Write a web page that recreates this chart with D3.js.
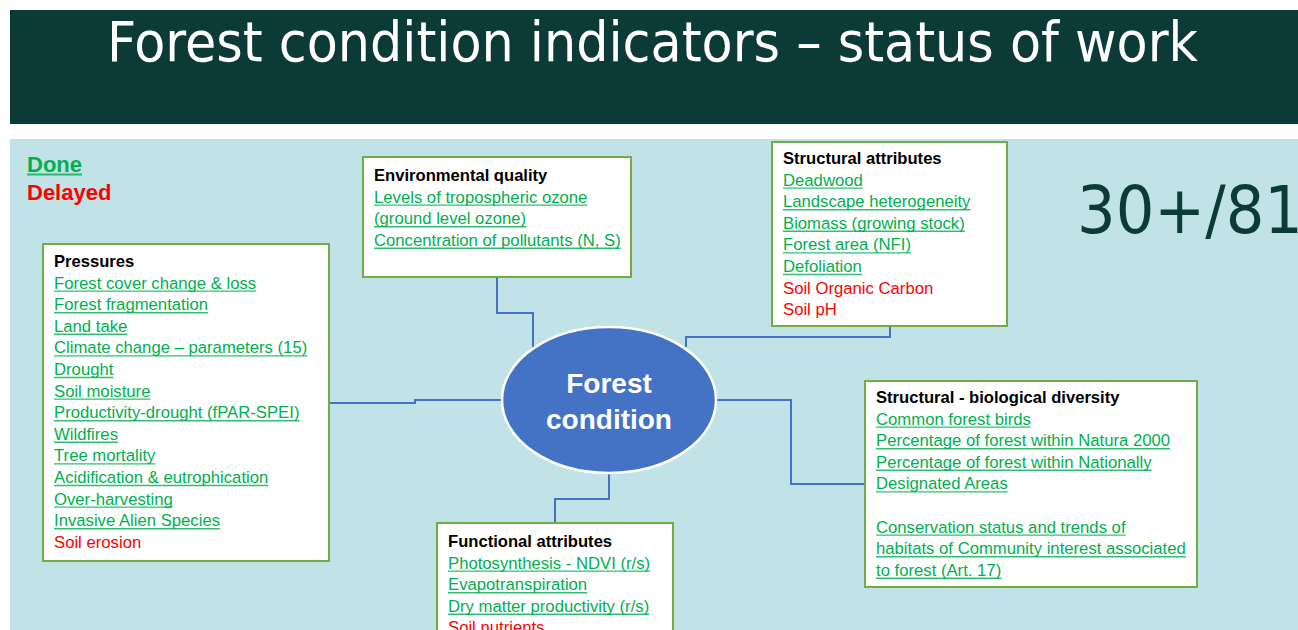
<head>
	<script src="https://d3js.org/d3.v7.min.js"></script>
	<style type="text/css">
		body { margin: 0; background: #ffffff; }
		text { font-family: "Liberation Sans", Arial, sans-serif; }
	</style>
</head>
<body>
	<script type="text/javascript">
		// chart content
		const title = 'Forest condition indicators \u2013 status of work'
		const score = '30+/81'
		const legendLabels = ['Done', 'Delayed']
		const centreLabel = ['Forest', 'condition']

		const groupNames = ['Pressures', 'Environmental quality', 'Structural attributes',
			'Structural - biological diversity', 'Functional attributes']

		// lines of each box and their status (1 = done, 0 = delayed, null = blank line)
		const pressures = ['Forest cover change & loss', 'Forest fragmentation', 'Land take',
			'Climate change \u2013 parameters (15)', 'Drought', 'Soil moisture',
			'Productivity-drought (fPAR-SPEI)', 'Wildfires', 'Tree mortality',
			'Acidification & eutrophication', 'Over-harvesting', 'Invasive Alien Species', 'Soil erosion']
		const pressuresDone = [1,1,1,1,1,1,1,1,1,1,1,1,0]

		const envQuality = ['Levels of tropospheric ozone', '(ground level ozone)',
			'Concentration of pollutants (N, S)']
		const envQualityDone = [1,1,1]

		const structural = ['Deadwood', 'Landscape heterogeneity', 'Biomass (growing stock)',
			'Forest area (NFI)', 'Defoliation', 'Soil Organic Carbon', 'Soil pH']
		const structuralDone = [1,1,1,1,1,0,0]

		const bioDiversity = ['Common forest birds', 'Percentage of forest within Natura 2000',
			'Percentage of forest within Nationally', 'Designated Areas', '',
			'Conservation status and trends of', 'habitats of Community interest associated',
			'to forest (Art. 17)']
		const bioDiversityDone = [1,1,1,1,null,1,1,1]

		const functional = ['Photosynthesis - NDVI (r/s)', 'Evapotranspiration',
			'Dry matter productivity (r/s)', 'Soil nutrients']
		const functionalDone = [1,1,1,0]

		const groupItems = [pressures, envQuality, structural, bioDiversity, functional]
		const groupDone = [pressuresDone, envQualityDone, structuralDone, bioDiversityDone, functionalDone]

		// layout
		const width = 1298, height = 630
		const green = '#00b050', red = '#ff0000', dark = '#0b3a37', blue = '#4472c4'
		const boxes = [
			{x: 43, y: 244, w: 286, h: 317},
			{x: 363, y: 157, w: 268, h: 120},
			{x: 772, y: 142, w: 235, h: 184},
			{x: 865, y: 381, w: 332, h: 206},
			{x: 437, y: 523, w: 236, h: 130}
		]
		const headOffset = [23, 24, 22, 22, 24]
		const lineStep = 21.6
		const ellipse = {cx: 609, cy: 400, rx: 107, ry: 73}

		const svg = d3.select('body').append('svg')
			.attr('width', width)
			.attr('height', height)

		// header band
		svg.append('rect').attr('x', 10).attr('y', 10).attr('width', width - 10).attr('height', 114)
			.style('fill', dark)
		svg.append('text').attr('x', 107).attr('y', 61)
			.attr('textLength', 1091).attr('lengthAdjust', 'spacingAndGlyphs')
			.style('font-family', '"DejaVu Sans Condensed", "DejaVu Sans", sans-serif')
			.style('font-size', '56px').style('fill', '#ffffff')
			.text(title)

		// panel
		svg.append('rect').attr('x', 10).attr('y', 139).attr('width', width - 10).attr('height', height - 139)
			.style('fill', '#c1e2e7')

		function underline(sel, color, thick) {
			sel.each(function() {
				const t = d3.select(this)
				const len = this.getComputedTextLength()
				if (!len) return
				svg.append('line')
					.attr('x1', +t.attr('x')).attr('x2', +t.attr('x') + len)
					.attr('y1', +t.attr('y') + 2.5).attr('y2', +t.attr('y') + 2.5)
					.style('stroke', color).style('stroke-width', thick || 1.4).style('opacity', 0.8)
			})
		}

		// legend
		const legend = svg.append('g').selectAll('text')
			.data(legendLabels)
			.enter()
			.append('text')
				.attr('x', 27)
				.attr('y', (d, i) => 172 + i * 28)
				.style('font-size', '22px').style('font-weight', 'bold')
				.style('fill', (d, i) => i === 0 ? green : red)
				.text(d => d)
		underline(legend.filter((d, i) => i === 0), green, 2.2)

		// score
		svg.append('text').attr('x', 1077).attr('y', 233)
			.attr('textLength', 226).attr('lengthAdjust', 'spacingAndGlyphs')
			.style('font-family', '"DejaVu Sans", sans-serif')
			.style('font-size', '66px').style('fill', dark)
			.text(score)

		// connectors
		const connectors = [
			[[329, 403], [415, 403], [415, 400], [502, 400]],
			[[497, 277], [497, 313], [533, 313], [533, 348]],
			[[890, 326], [890, 337], [686, 337], [686, 347]],
			[[716, 400], [791, 400], [791, 484], [865, 484]],
			[[609, 473], [609, 499], [555, 499], [555, 523]]
		]
		svg.append('g').selectAll('path')
			.data(connectors)
			.enter()
			.append('path')
				.attr('d', d3.line())
				.style('fill', 'none').style('stroke', blue).style('stroke-width', 2)

		// centre ellipse
		svg.append('ellipse')
			.attr('cx', ellipse.cx).attr('cy', ellipse.cy).attr('rx', ellipse.rx).attr('ry', ellipse.ry)
			.style('fill', blue).style('stroke', '#ffffff').style('stroke-width', 2.5)
		svg.append('g').selectAll('text')
			.data(centreLabel)
			.enter()
			.append('text')
				.attr('x', ellipse.cx)
				.attr('y', (d, i) => 393 + i * 36)
				.attr('text-anchor', 'middle')
				.style('font-size', '28px').style('font-weight', 'bold').style('fill', '#ffffff')
				.text(d => d)

		// indicator boxes
		groupNames.forEach(function(name, g) {
			const b = boxes[g]
			const box = svg.append('g')
			box.append('rect')
				.attr('x', b.x).attr('y', b.y).attr('width', b.w).attr('height', b.h)
				.style('fill', '#ffffff').style('stroke', '#70ad47').style('stroke-width', 2)
			box.append('text')
				.attr('x', b.x + 11).attr('y', b.y + headOffset[g])
				.style('font-size', '16.6px').style('font-weight', 'bold').style('fill', '#000000')
				.text(name)
			const items = groupItems[g].map((t, i) => ({text: t, done: groupDone[g][i]}))
			const rows = box.selectAll('text.item')
				.data(items)
				.enter()
				.append('text')
					.attr('class', 'item')
					.attr('x', b.x + 11)
					.attr('y', (d, i) => b.y + headOffset[g] + (i + 1) * lineStep)
					.style('font-size', '16.7px')
					.style('fill', d => d.done ? green : red)
					.text(d => d.text)
			underline(rows.filter(d => d.done === 1), green)
		})
	</script>
</body>
